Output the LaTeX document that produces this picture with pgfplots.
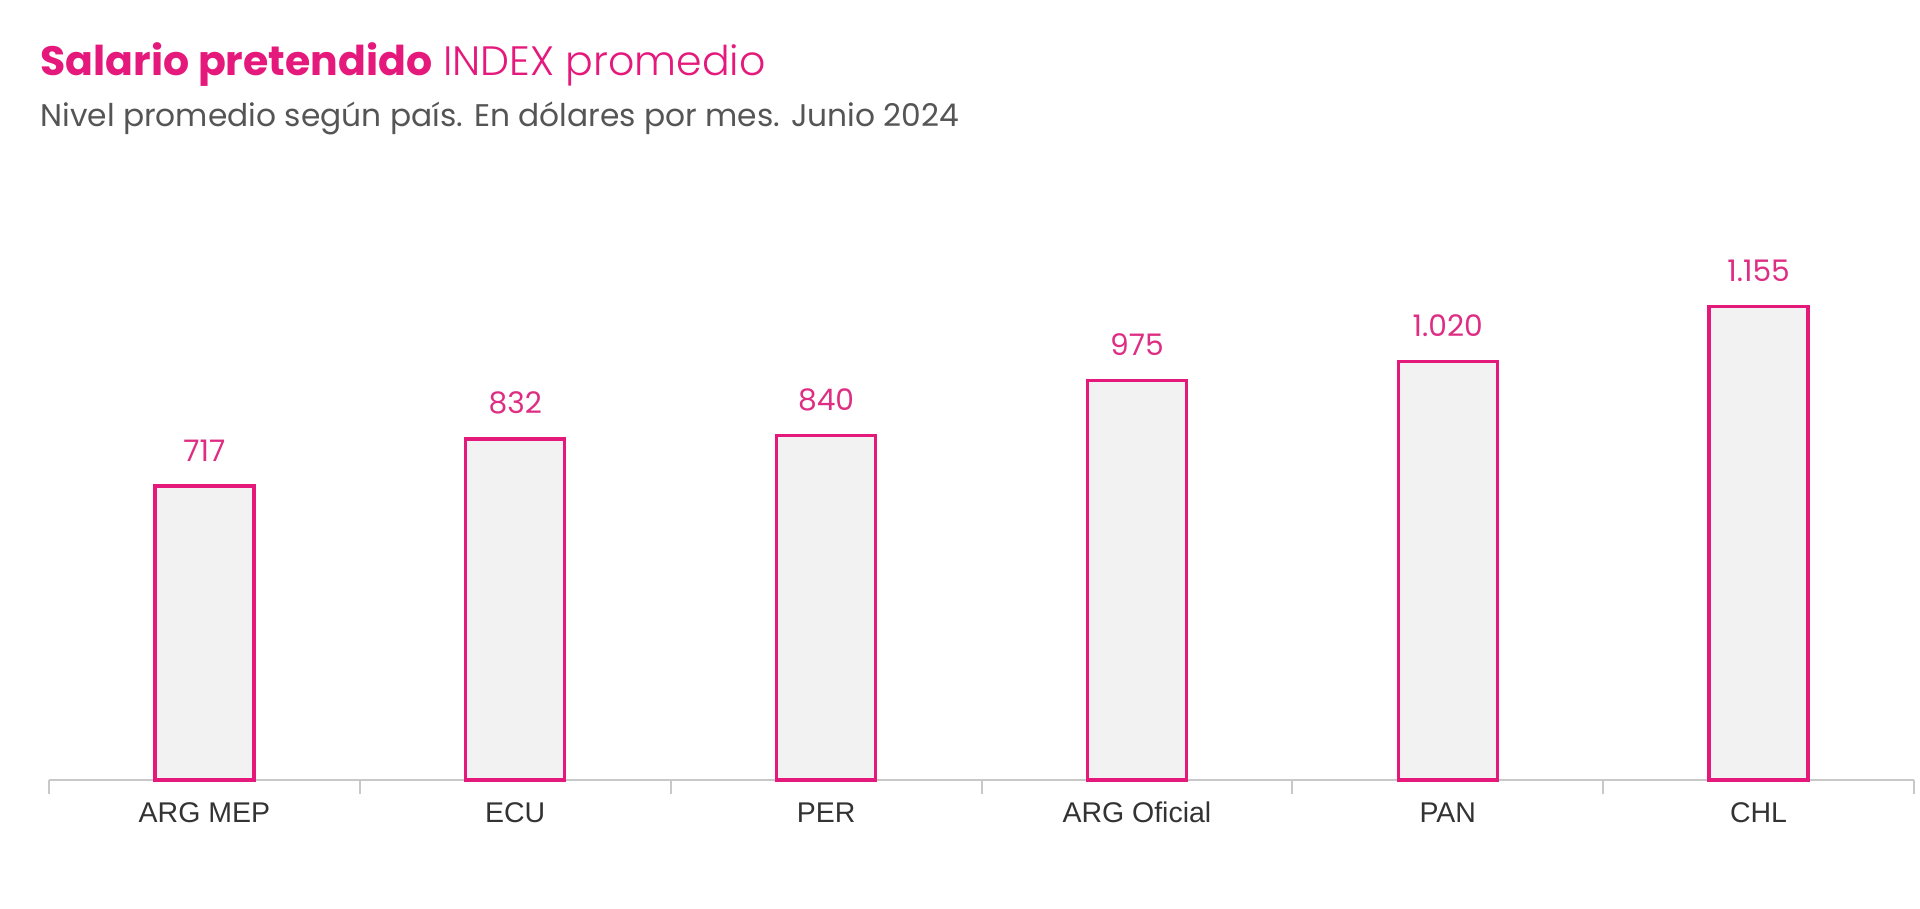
\documentclass[border=0pt]{standalone}
\usepackage{pgfplots}
\pgfplotsset{compat=1.18}
\usepackage{fontspec}
\setmainfont{Poppins}
\newfontfamily\plight{Poppins Light}
\newfontfamily\arial{Liberation Sans}
\definecolor{pinkm}{HTML}{E5197C}
\definecolor{pinkl}{HTML}{DE2E83}
\definecolor{barfill}{HTML}{F2F2F2}
\definecolor{axgrey}{HTML}{C8C8C8}
\definecolor{subgrey}{HTML}{555555}
\definecolor{labgrey}{HTML}{333333}
\begin{document}
\begin{tikzpicture}
\path[use as bounding box] (-24.5bp,-64.5bp) rectangle (935.5bp,390bp);
\begin{axis}[
  at={(0,0)}, anchor=south west,
  scale only axis,
  width=932.5bp, height=287bp,
  xmin=-0.5, xmax=5.5, ymin=0, ymax=1400,
  axis x line=bottom, axis y line=none,
  axis line style={-, draw=axgrey, line width=1bp},
  xtick=data,
  xticklabels={ARG MEP, ECU, PER, ARG Oficial, PAN, CHL},
  major x tick style={draw=none},
  minor xtick={-0.5,0.5,1.5,2.5,3.5,4.5,5.5},
  minor x tick style={draw=axgrey, line width=1bp},
  minor tick length=7bp,
  tick align=outside,
  xticklabel style={font=\arial\fontsize{14.3}{16}\selectfont, text=labgrey, anchor=base, yshift=-17bp},
  ybar, bar width=49.5bp,
  nodes near coords,
  point meta=y,
  /pgf/number format/.cd, 1000 sep={.}, fixed, assume math mode=true,
  /pgfplots/.cd,
  every node near coord/.append style={font=\fontsize{14.9}{17}\selectfont, text=pinkl, anchor=base, yshift=12.5bp},
  clip=false,
]
\addplot[draw=pinkm, fill=barfill, line width=1.7bp] coordinates {
  (0,717) (1,832) (2,840) (3,975) (4,1020) (5,1155)
};
\end{axis}
\node[anchor=base west, inner sep=0pt, text=pinkm, font=\fontsize{20.6}{22}\selectfont] at (-4.5bp,352bp) {\textbf{Salario pretendido} {\plight INDEX promedio}};
\node[anchor=base west, inner sep=0pt, text=subgrey, font=\fontsize{15.7}{18}\selectfont] at (-4.5bp,326.5bp) {Nivel promedio según país. En dólares por mes. Junio 2024};
\end{tikzpicture}
\end{document}
